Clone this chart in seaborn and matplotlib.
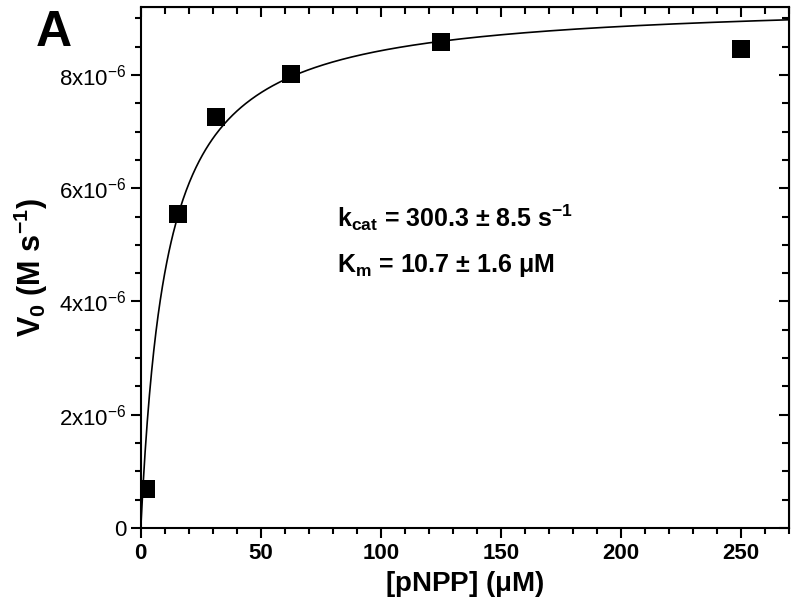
import numpy as np
import pandas as pd
import matplotlib
matplotlib.use('Agg')
import matplotlib.pyplot as plt
import seaborn as sns
from matplotlib.ticker import MultipleLocator, FixedLocator

# measured initial rates
substrate_uM = [2.0, 15.6, 31.25, 62.5, 125.0, 250.0]
rate_Ms = [0.69e-6, 5.55e-6, 7.26e-6, 8.02e-6, 8.59e-6, 8.45e-6]

# Michaelis-Menten fit parameters
km_uM = 10.7
vmax_Ms = 9.33e-6

y_ticks = [0, 2e-6, 4e-6, 6e-6, 8e-6]
y_tick_labels = ['0', '2x10$^{-6}$', '4x10$^{-6}$', '6x10$^{-6}$', '8x10$^{-6}$']

sns.set_style('ticks')
plt.rcParams['font.family'] = ['Liberation Sans', 'DejaVu Sans']
plt.rcParams['mathtext.fontset'] = 'custom'
plt.rcParams['mathtext.rm'] = 'Liberation Sans'
plt.rcParams['mathtext.it'] = 'Liberation Sans:italic'
plt.rcParams['mathtext.bf'] = 'Liberation Sans:bold'
for key in ['text.color', 'axes.labelcolor', 'xtick.color', 'ytick.color', 'axes.edgecolor']:
    plt.rcParams[key] = 'black'

df = pd.DataFrame({'S': substrate_uM, 'V': rate_Ms})
s_fit = np.linspace(0, 270, 600)
fit = pd.DataFrame({'S': s_fit, 'V': vmax_Ms * s_fit / (km_uM + s_fit)})

fig = plt.figure(figsize=(8, 6.09), dpi=100)
ax = fig.add_axes([0.176, 0.133, 0.81, 0.8555])

sns.lineplot(data=fit, x='S', y='V', color='black', linewidth=1.2, ax=ax)
sns.scatterplot(data=df, x='S', y='V', marker='s', s=150, color='black',
                edgecolor='black', linewidth=0, ax=ax, zorder=3)

ax.set_xlim(0, 270)
ax.set_ylim(0, 9.2e-6)

ax.xaxis.set_major_locator(MultipleLocator(50))
ax.xaxis.set_minor_locator(MultipleLocator(10))
ax.yaxis.set_major_locator(FixedLocator(y_ticks))
ax.yaxis.set_minor_locator(MultipleLocator(0.5e-6))
ax.set_yticklabels(y_tick_labels)

for lbl in ax.get_xticklabels():
    lbl.set_fontweight('bold')
ax.tick_params(axis='both', which='major', labelsize=16, length=7, width=1.5, direction='out')
ax.tick_params(axis='both', which='minor', length=4, width=1.5, direction='out')

for sp in ax.spines.values():
    sp.set_visible(True)
    sp.set_linewidth(1.5)
    sp.set_color('black')

# inward ticks on top and right
top = ax.secondary_xaxis('top')
top.xaxis.set_major_locator(MultipleLocator(50))
top.xaxis.set_minor_locator(MultipleLocator(10))
top.tick_params(which='major', direction='in', length=7, width=1.5, labeltop=False)
top.tick_params(which='minor', direction='in', length=5, width=1.5)
right = ax.secondary_yaxis('right')
right.yaxis.set_major_locator(FixedLocator(y_ticks))
right.yaxis.set_minor_locator(MultipleLocator(0.5e-6))
right.tick_params(which='major', direction='in', length=7, width=1.5, labelright=False)
right.tick_params(which='minor', direction='in', length=5, width=1.5)

ax.set_xlabel(r'[pNPP] ($\mathbf{\mu}$M)', fontsize=20, fontweight='bold', labelpad=4)
ax.set_ylabel(r'V$_\mathbf{0}$ (M s$^\mathbf{-1}$)', fontsize=22, fontweight='bold', labelpad=6)

ax.text(0.303, 0.578, r'k$_\mathbf{cat}$ = 300.3 ± 8.5 s$^\mathbf{-1}$', transform=ax.transAxes,
        fontsize=18, fontweight='bold', va='baseline')
ax.text(0.303, 0.491, r'K$_\mathbf{m}$ = 10.7 ± 1.6 $\mathbf{\mu}$M', transform=ax.transAxes,
        fontsize=18, fontweight='bold', va='baseline')

fig.text(0.045, 0.925, 'A', fontsize=36, fontweight='bold')

fig.savefig('out.png', dpi=100)
